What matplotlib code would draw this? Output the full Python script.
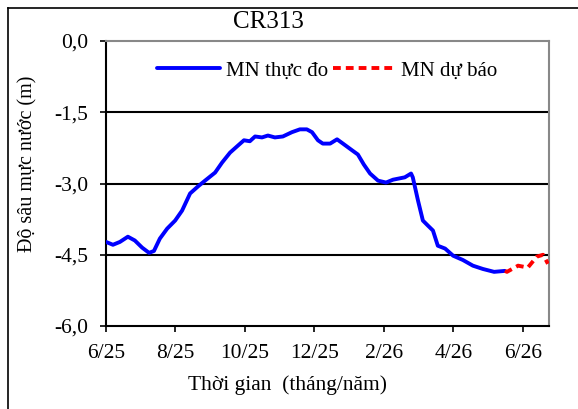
import matplotlib
matplotlib.use("Agg")
import matplotlib.pyplot as plt
from matplotlib.lines import Line2D

plt.rcParams['font.family'] = ['Liberation Serif', 'DejaVu Serif']

# months counted from 6/2025
obs_t = [0.00, 0.20, 0.40, 0.63, 0.83, 1.04, 1.24, 1.38, 1.55, 1.76, 1.99, 2.19,
         2.42, 2.65, 2.85, 3.14, 3.34, 3.57, 3.80, 3.97, 4.14, 4.29, 4.49, 4.66,
         4.86, 5.09, 5.35, 5.58, 5.78, 5.93, 6.10, 6.24, 6.45, 6.65, 6.82, 7.08,
         7.25, 7.42, 7.60, 7.83, 8.06, 8.26, 8.60, 8.78, 8.83, 8.98, 9.12, 9.27,
         9.41, 9.55, 9.76, 9.99, 10.27, 10.56, 10.85, 11.17, 11.48]
obs_h = [-4.23, -4.29, -4.23, -4.12, -4.20, -4.35, -4.46, -4.42, -4.16, -3.95, -3.78, -3.57,
         -3.21, -3.06, -2.94, -2.77, -2.56, -2.35, -2.20, -2.09, -2.11, -2.01, -2.03, -1.99,
         -2.03, -2.01, -1.92, -1.86, -1.86, -1.92, -2.09, -2.16, -2.16, -2.07, -2.16, -2.30,
         -2.39, -2.60, -2.79, -2.94, -2.98, -2.92, -2.87, -2.79, -2.87, -3.36, -3.78, -3.89,
         -3.99, -4.31, -4.37, -4.52, -4.61, -4.73, -4.80, -4.86, -4.84]

fc_t = [11.48, 11.54, 11.86, 12.14, 12.40, 12.58, 12.72]
fc_h = [-4.84, -4.86, -4.73, -4.77, -4.54, -4.50, -4.69]

tick_pos = [0, 2, 4, 6, 8, 10, 12]
tick_lbl = ['6/25', '8/25', '10/25', '12/25', '2/26', '4/26', '6/26']
y_ticks = [0.0, -1.5, -3.0, -4.5, -6.0]

fig = plt.figure(figsize=(5.78, 4.09), dpi=100)
ax = fig.add_axes([106/578, 1 - 326/409, (549-106)/578, (326-41)/409])

for y in [-1.5, -3.0, -4.5]:
    ax.axhline(y, color='black', lw=1.5, zorder=1)

ax.plot(obs_t, obs_h, color='#0000ff', lw=2.8, label='MN thực đo', zorder=3,
        solid_joinstyle='round', solid_capstyle='round')
ax.plot(fc_t, fc_h, color='#ff0000', lw=2.8, ls=(0, (2.0, 1.3)), label='MN dự báo', zorder=3)

ax.set_xlim(0, 12.75)
ax.set_ylim(-6.0, 0.0)
ax.set_xticks(tick_pos)
ax.set_xticklabels(tick_lbl)
ax.set_yticks(y_ticks)
ax.set_yticklabels([f"{v:.1f}".replace('.', ',') for v in y_ticks])
ax.tick_params(direction='out', length=4, width=1.2, labelsize=15.5, colors='black')
ax.tick_params(axis='x', pad=9)
ax.tick_params(axis='y', pad=9)

for s in ['left', 'bottom']:
    ax.spines[s].set_color('black')
    ax.spines[s].set_linewidth(1.5)
for s in ['top', 'right']:
    ax.spines[s].set_color('#888888')
    ax.spines[s].set_linewidth(1.5)

ax.legend(loc='upper center', bbox_to_anchor=(0.5, 0.995), ncol=2, frameon=False,
          fontsize=15, handlelength=3.0, handletextpad=0.3, columnspacing=0.2)

fig.text(268/578, 1 - 22/409, 'CR313', ha='center', va='center', fontsize=18)
fig.text(28/578, 1 - 164/409, 'Độ sâu mực nước (m)', rotation=90, ha='center', va='center', fontsize=14.5)
fig.text(288/578, 1 - 385/409, 'Thời gian  (tháng/năm)', ha='center', va='center', fontsize=15.5)

# outer frame (left and top edges)
fig.add_artist(Line2D([8/578, 8/578], [0, 1 - 8/409], color='black', lw=1.2, transform=fig.transFigure))
fig.add_artist(Line2D([8/578, 1], [1 - 8/409, 1 - 8/409], color='black', lw=1.2, transform=fig.transFigure))

fig.savefig('out.png', dpi=100)
